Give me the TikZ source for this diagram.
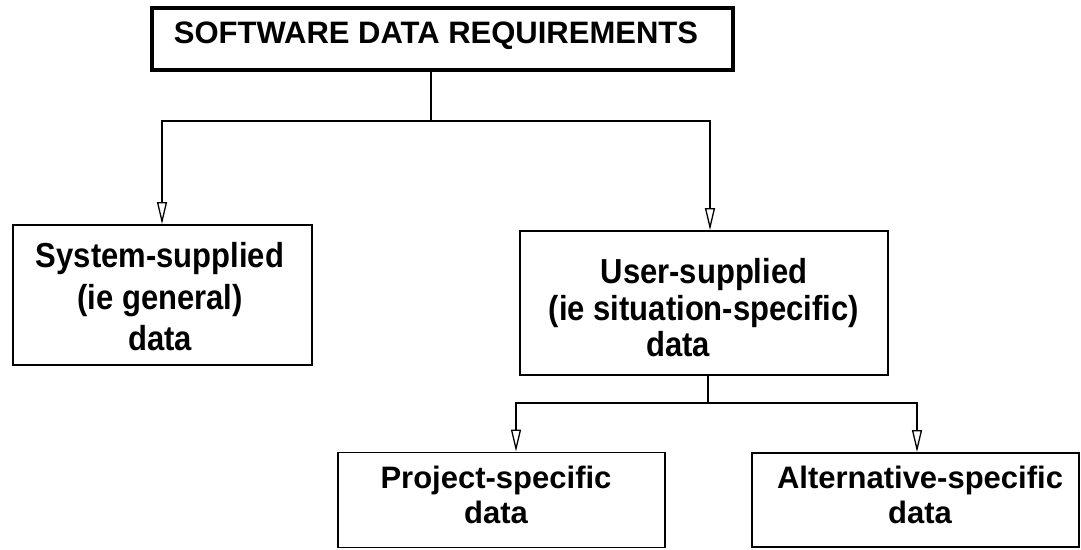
\documentclass[tikz,border=0pt]{standalone}
\usepackage{fontspec}
\usepackage{graphicx}
\setmainfont{Liberation Sans}
\usetikzlibrary{arrows.meta,calc}
% #1 vertical stretch, #2 baselineskip (pt), #3 lines
\newcommand\tallblock[3]{\scalebox{1}[#1]{\fontsize{31}{#2}\selectfont\bfseries\begin{tabular}{@{}c@{}}#3\end{tabular}}}
\begin{document}
\begin{tikzpicture}[x=1pt,y=-1pt,
  box/.style={draw=black, line width=1.8pt, rectangle, inner sep=0pt},
  titlebox/.style={draw=black, line width=3.5pt, rectangle, inner sep=0pt},
  txt/.style={align=center, inner sep=0pt},
  conn/.style={draw=black, line width=1.4pt},
  arr/.style={conn, -{Triangle[open, length=22pt, width=10pt, line width=1.3pt]}}
]
\useasboundingbox (0,0) rectangle (1081,549);

% boxes
\node[titlebox, minimum width=581pt, minimum height=62pt] (title) at (442.5,39) {};
\node[box, minimum width=299pt, minimum height=140pt] (sys) at (162.5,295) {};
\node[box, minimum width=368pt, minimum height=144pt] (user) at (704,303) {};
\node[box, minimum width=327pt, minimum height=95pt] (proj) at (501.5,500) {};
\node[box, minimum width=327pt, minimum height=94pt] (alt) at (915.5,500) {};

% texts
\node[txt] (titleT) at (436,37) {\tallblock{1}{33}{SOFTWARE DATA REQUIREMENTS}};
\node[txt] (sysT) at (160,301) {\tallblock{1.12}{37}{System-supplied\\(ie general)\\data}};
\node[txt] (userT) at (704,313) {\tallblock{1.12}{32.7}{User-supplied\\(ie situation-specific)\\\hspace*{-52pt}data}};
\node[txt] (projT) at (496,499) {\tallblock{1}{35}{Project-specific\\data}};
\node[txt] (altT) at (920,499) {\tallblock{1}{35}{Alternative-specific\\data}};

% connectors
\coordinate (j1) at (431,121);
\coordinate (j2) at (708,403);
\draw[conn] (title.south -| j1) -- (j1);
\draw[arr] (j1) -| ([xshift=-0.5pt]sys.north);
\draw[arr] (j1) -| ([xshift=6pt]user.north);
\draw[conn] (user.south -| j2) -- (j2);
\draw[arr] (j2) -| ([xshift=14.5pt]proj.north);
\draw[arr] (j2) -| ([xshift=1.5pt]alt.north);
\end{tikzpicture}
\end{document}
